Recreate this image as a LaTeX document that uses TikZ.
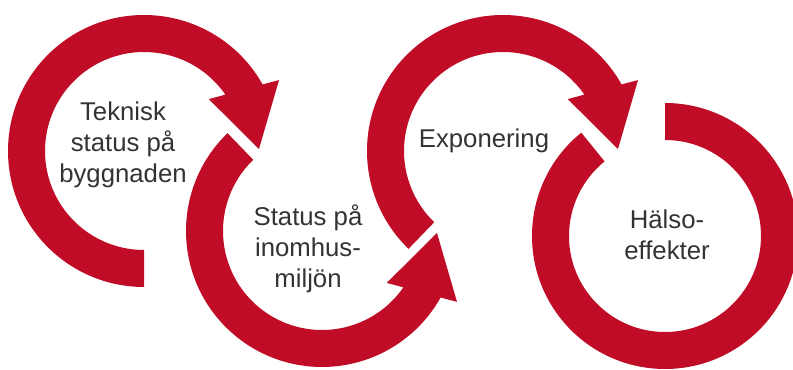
\documentclass[tikz,border=0pt]{standalone}
\usepackage{fontspec}
\setmainfont{Liberation Sans}
\usepackage{xcolor}
\usepackage{tikz}
\definecolor{ringred}{RGB}{192,12,38}
\definecolor{textgray}{RGB}{51,51,51}

\begin{document}
\begin{tikzpicture}[x=0.75pt,y=0.75pt,
  ring/.style={fill=ringred,draw=none},
  looptext/.style={align=center,text=textgray,font=\fontsize{19.3}{23.3}\selectfont}]
\useasboundingbox (0,0) rectangle (793,370);
% first loop, clockwise from the bottom
\begin{scope}[shift={(144,219)}]
\fill[ring] (270:136) arc[start angle=270,end angle=29.3,radius=136] -- (27.7:152.5) -- (1:115)
  -- (38.7:83) -- (34.7:99) arc[start angle=34.7,end angle=270,radius=99] -- cycle;
\end{scope}
% second loop, mirrored
\begin{scope}[shift={(322,139)},yscale=-1]
\fill[ring] (226:136) arc[start angle=226,end angle=29.3,radius=136] -- (27.7:152.5) -- (1:115)
  -- (38.7:83) -- (34.7:99) arc[start angle=34.7,end angle=226,radius=99] -- cycle;
\end{scope}
% third loop
\begin{scope}[shift={(503,219)}]
\fill[ring] (226:136) arc[start angle=226,end angle=29.3,radius=136] -- (27.7:152.5) -- (1:115)
  -- (38.7:83) -- (34.7:99) arc[start angle=34.7,end angle=226,radius=99] -- cycle;
\end{scope}
% last ring, no arrow
\begin{scope}[shift={(665,134)}]
\fill[ring] (129:133) arc[start angle=129,end angle=450,radius=133] -- (90:96)
  arc[start angle=450,end angle=129,radius=96] -- cycle;
\end{scope}
\node[looptext] (teknisk) at (123,225.4) {Teknisk\\status på\\byggnaden};
\node[looptext] (inomhus) at (308,121) {Status på\\inomhus-\\miljön};
\node[looptext] (exponering) at (484,228.7) {Exponering};
\node[looptext] (halso) at (667,135.2) {Hälso-\\effekter};
\end{tikzpicture}
\end{document}
